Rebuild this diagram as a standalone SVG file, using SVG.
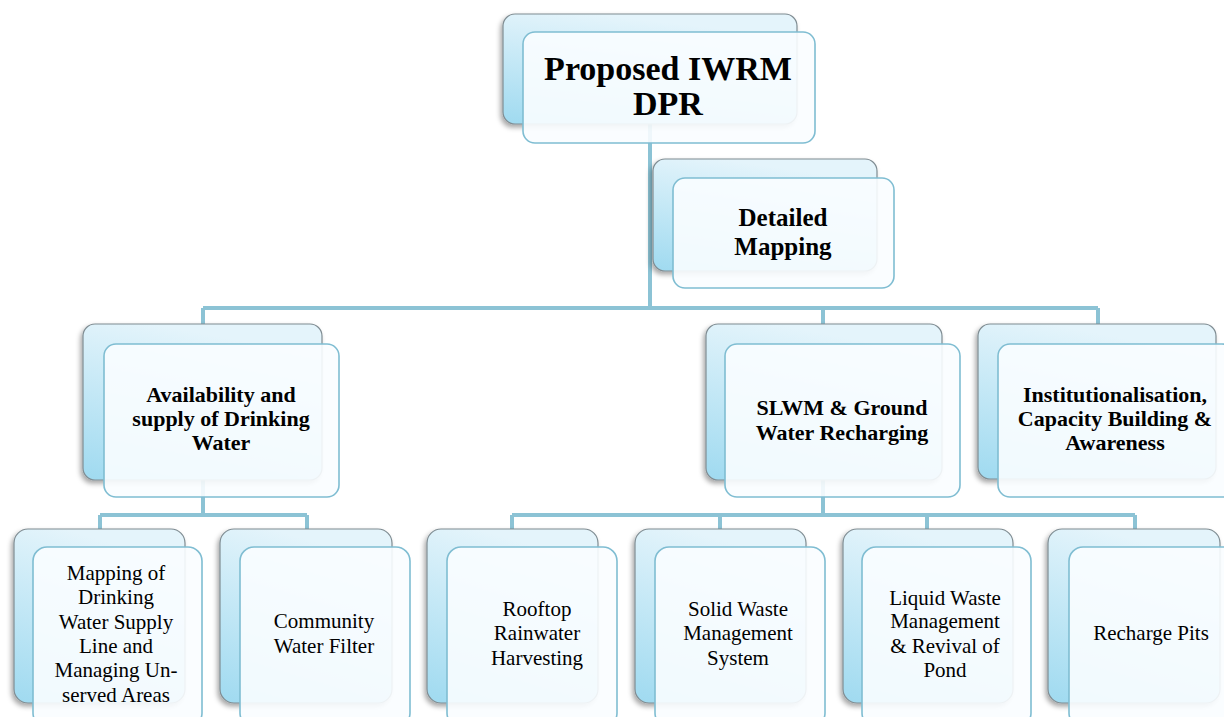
<svg xmlns="http://www.w3.org/2000/svg" width="1224" height="717" viewBox="0 0 1224 717">
<defs>
<linearGradient id="bg" x1="0.3" y1="0" x2="0" y2="1">
<stop offset="0" stop-color="#e4f4fb"/>
<stop offset="1" stop-color="#9fdaf0"/>
</linearGradient>
<filter id="sh" x="-10%" y="-10%" width="120%" height="125%">
<feDropShadow dx="-2" dy="3" stdDeviation="2.5" flood-color="#000" flood-opacity="0.35"/>
</filter>
</defs>
<style>
.back{fill:url(#bg);stroke:#7f8c92;stroke-width:1.2;filter:url(#sh)}
.front{fill:#fafdff;fill-opacity:0.9;stroke:#7fbdd2;stroke-width:1.6}
.con{fill:none;stroke:#8cc3d5;stroke-width:4}
.b{font-family:"Liberation Serif",serif;font-weight:bold;fill:#000;text-anchor:middle}
.r{font-family:"Liberation Serif",serif;fill:#000;text-anchor:middle;font-size:21px}
</style>
<rect width="1224" height="717" fill="#fff"/>
<g id="connectors">
<path class="con" d="M650 122V308M203 308H1098M203 308V326M823 308V326M1098 308V326"/>
<path class="con" d="M203 480V515M100 515H307M100 515V531M307 515V531"/>
<path class="con" d="M823 480V515M512 515H1135M512 515V531M720 515V531M927 515V531M1135 515V531"/>
</g>
<g id="n-root">
<rect class="back" x="503" y="14" width="294" height="110" rx="12"/>
<rect class="front" x="523" y="32" width="292" height="111" rx="12"/>
<text class="b" font-size="34" x="668" y="80">Proposed IWRM</text>
<text class="b" font-size="34" x="668" y="115">DPR</text>
</g>
<g id="n-detailed">
<rect class="back" x="653" y="159" width="224" height="112" rx="12"/>
<rect class="front" x="673" y="178" width="221" height="110" rx="12"/>
<text class="b" font-size="25" x="783" y="226">Detailed</text>
<text class="b" font-size="25" x="783" y="255">Mapping</text>
</g>
<g id="n-avail">
<rect class="back" x="83" y="324" width="239" height="156" rx="12"/>
<rect class="front" x="104" y="344" width="235" height="153" rx="12"/>
<text class="b" font-size="22" x="221" y="402">Availability  and</text>
<text class="b" font-size="22" x="221" y="426">supply of Drinking</text>
<text class="b" font-size="22" x="221" y="450">Water</text>
</g>
<g id="n-slwm">
<rect class="back" x="706" y="324" width="236" height="156" rx="12"/>
<rect class="front" x="725" y="344" width="235" height="153" rx="12"/>
<text class="b" font-size="22" x="842" y="415">SLWM &amp; Ground</text>
<text class="b" font-size="22" x="842" y="440">Water Recharging</text>
</g>
<g id="n-inst">
<rect class="back" x="978" y="324" width="238" height="155" rx="12"/>
<rect class="front" x="998" y="344" width="236" height="153" rx="12"/>
<text class="b" font-size="22" x="1115" y="402">Institutionalisation,</text>
<text class="b" font-size="22" x="1115" y="426">Capacity Building &amp;</text>
<text class="b" font-size="22" x="1115" y="450">Awareness</text>
</g>
<g id="n-mapping">
<rect class="back" x="14" y="529" width="171" height="174" rx="14"/>
<rect class="front" x="33" y="547" width="169" height="180" rx="14"/>
<text class="r" x="116" y="580">Mapping of</text>
<text class="r" x="116" y="604">Drinking</text>
<text class="r" x="116" y="629">Water Supply</text>
<text class="r" x="116" y="653">Line and</text>
<text class="r" x="116" y="677">Managing Un-</text>
<text class="r" x="116" y="702">served Areas</text>
</g>
<g id="n-filter">
<rect class="back" x="220" y="529" width="172" height="174" rx="14"/>
<rect class="front" x="240" y="547" width="170" height="180" rx="14"/>
<text class="r" x="324" y="628">Community</text>
<text class="r" x="324" y="653">Water Filter</text>
</g>
<g id="n-rooftop">
<rect class="back" x="427" y="529" width="171" height="174" rx="14"/>
<rect class="front" x="447" y="547" width="170" height="180" rx="14"/>
<text class="r" x="537" y="616">Rooftop</text>
<text class="r" x="537" y="640">Rainwater</text>
<text class="r" x="537" y="665">Harvesting</text>
</g>
<g id="n-solid">
<rect class="back" x="635" y="529" width="171" height="174" rx="14"/>
<rect class="front" x="655" y="547" width="170" height="180" rx="14"/>
<text class="r" x="738" y="616">Solid Waste</text>
<text class="r" x="738" y="640">Management</text>
<text class="r" x="738" y="665">System</text>
</g>
<g id="n-liquid">
<rect class="back" x="843" y="529" width="170" height="174" rx="14"/>
<rect class="front" x="862" y="547" width="169" height="180" rx="14"/>
<text class="r" x="945" y="605">Liquid Waste</text>
<text class="r" x="945" y="628">Management</text>
<text class="r" x="945" y="653">&amp; Revival of</text>
<text class="r" x="945" y="677">Pond</text>
</g>
<g id="n-recharge">
<rect class="back" x="1048" y="529" width="172" height="174" rx="14"/>
<rect class="front" x="1069" y="547" width="170" height="180" rx="14"/>
<text class="r" x="1151" y="640">Recharge Pits</text>
</g>
</svg>
